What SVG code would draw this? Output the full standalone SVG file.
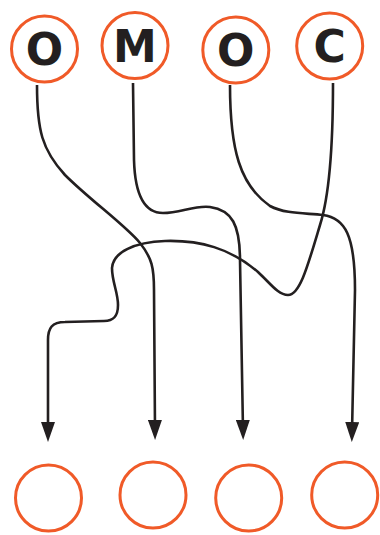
<svg xmlns="http://www.w3.org/2000/svg" width="380" height="535" viewBox="0 0 380 535">
<defs>
<style>
.node circle{fill:#fff;stroke:#F05A28;stroke-width:3}
.node text{font-family:"DejaVu Sans","Liberation Sans",Arial,sans-serif;font-weight:bold;font-size:44px;fill:#231F20;text-anchor:middle}
.conn path{fill:none;stroke:#231F20;stroke-width:2.6}
</style>
<marker id="arr" markerUnits="userSpaceOnUse" markerWidth="20" markerHeight="14" refX="10" refY="7" orient="auto" viewBox="0 0 20 14">
<path d="M0,0 L20,7 L0,14 Z" fill="#231F20"/>
</marker>
</defs>
<g id="connectors" class="conn">
<path marker-end="url(#arr)" d="M37,85 C37,130 42,150 65,175 C90,200 125,225 140,243 C152,258 154,268 154,290 L155,430"/>
<path marker-end="url(#arr)" d="M133,83 L134,160 C135,195 145,213 163,213 C180,213 195,205 210,207 C232,210 240,225 240,260 L243,430"/>
<path marker-end="url(#arr)" d="M230,85 C230,150 240,185 270,206 C285,214 305,213 323,215 C345,218 355,235 355,290 L352,432"/>
<path marker-end="url(#arr)" d="M333,83 C333,150 328,200 320,225 C308,265 300,295 288,295 C278,295 270,283 258,272 C230,248 200,240 165,241 C135,242 113,252 112,268 C112,282 118,292 118,305 C118,316 114,321 104,321 L65,322 C52,322 48,328 48,340 L48,432"/>
</g>
<g id="top-o1" class="node"><circle cx="44.5" cy="49" r="33"/><text x="44.5" y="65">O</text></g>
<g id="top-m" class="node"><circle cx="135" cy="45.5" r="33"/><text x="135" y="61.5">M</text></g>
<g id="top-o2" class="node"><circle cx="235.8" cy="50" r="33"/><text x="235.8" y="66">O</text></g>
<g id="top-c" class="node"><circle cx="329.7" cy="46" r="33"/><text x="329.7" y="62">C</text></g>
<g id="bottom-1" class="node"><circle cx="48.5" cy="498" r="33"/></g>
<g id="bottom-2" class="node"><circle cx="153" cy="495" r="33"/></g>
<g id="bottom-3" class="node"><circle cx="248.7" cy="498" r="33"/></g>
<g id="bottom-4" class="node"><circle cx="344.7" cy="495" r="33"/></g>
</svg>
